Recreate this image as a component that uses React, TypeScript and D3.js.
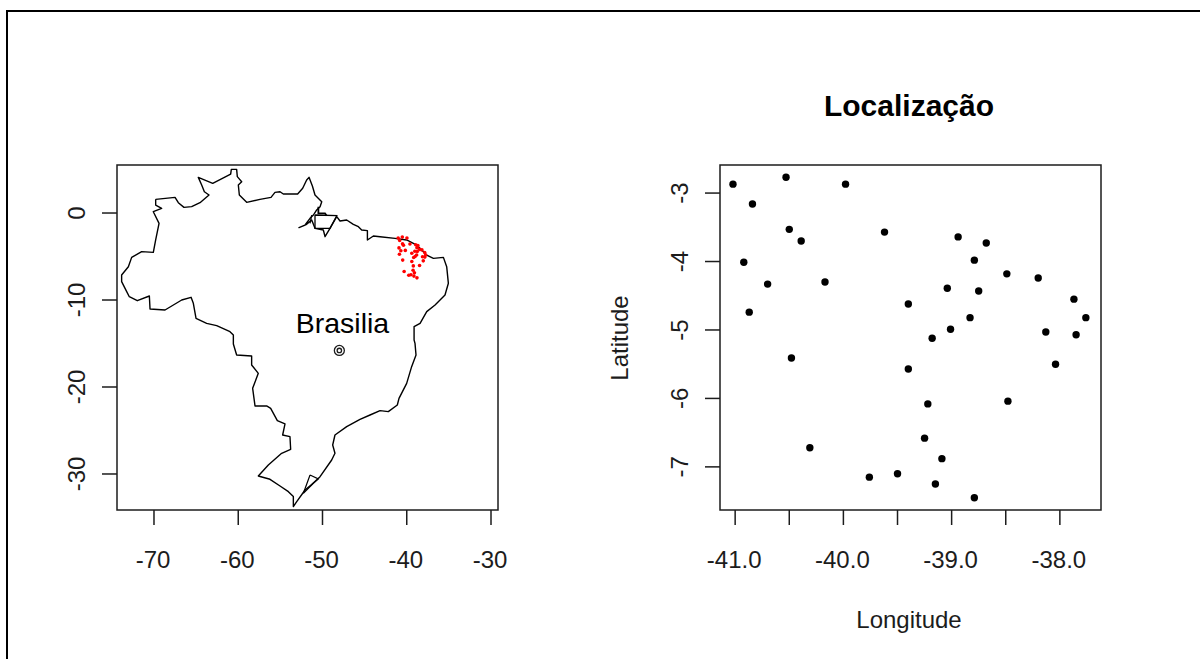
import React from 'react';
import * as d3 from 'd3';

// station coordinates
const stationLon = [-41.02, -40.84, -40.53, -39.98, -40.50, -40.39, -39.62, -38.94, -38.68, -40.92, -40.70, -40.17, -38.79, -38.49, -38.20, -38.75, -39.04, -39.40, -40.87, -37.87, -37.76, -38.13, -37.85, -38.83, -39.01, -39.18, -40.48, -39.40, -38.04, -38.48, -39.22, -39.25, -40.31, -39.09, -39.76, -39.50, -39.15, -38.79];
const stationLat = [-2.87, -3.16, -2.77, -2.87, -3.53, -3.70, -3.57, -3.64, -3.73, -4.01, -4.33, -4.30, -3.98, -4.18, -4.24, -4.43, -4.39, -4.62, -4.74, -4.55, -4.82, -5.03, -5.07, -4.82, -4.99, -5.12, -5.41, -5.57, -5.50, -6.04, -6.08, -6.58, -6.72, -6.88, -7.15, -7.10, -7.25, -7.45];

// Brazil border, traced by hand [lon, lat]
const brazilOutline: [number, number][] = [
  [-69.80, 1.57], [-67.50, 1.80], [-67.11, 1.19], [-66.44, 0.65], [-65.53, 0.73], [-64.54, 1.19], [-63.47, 2.07], [-64.02, 2.45],
  [-64.34, 3.22], [-64.74, 4.10], [-63.03, 3.41], [-60.90, 4.48], [-60.82, 5.02], [-60.19, 5.02], [-60.11, 4.18], [-59.59, 3.60],
  [-59.99, 3.22], [-59.87, 2.07], [-59.00, 1.23], [-57.42, 1.57], [-56.11, 1.80], [-55.64, 2.37], [-55.04, 2.45], [-54.65, 2.18],
  [-52.95, 2.18], [-52.35, 2.84], [-51.88, 3.79], [-51.60, 4.10], [-51.20, 3.10], [-50.89, 2.07], [-50.09, 1.30], [-50.29, 0.73],
  [-50.69, 0.35], [-51.08, -0.23], [-51.48, -0.61], [-52.07, -1.38], [-52.79, -1.68], [-51.88, -1.30], [-51.28, -0.80], [-50.89, -1.76],
  [-49.90, -1.95], [-49.70, -2.72], [-49.11, -1.76], [-48.31, -0.42], [-47.92, -0.92], [-47.13, -0.80], [-46.34, -1.30], [-45.74, -1.57],
  [-45.35, -1.95], [-44.67, -2.03], [-44.67, -3.10], [-43.96, -2.64], [-43.17, -2.72], [-41.39, -2.91], [-40.01, -3.10], [-38.82, -3.68],
  [-37.63, -4.83], [-36.84, -5.21], [-35.65, -5.10], [-35.26, -6.17], [-35.06, -8.08], [-35.46, -9.43], [-36.64, -10.57], [-37.63, -11.34],
  [-38.42, -12.68], [-39.13, -13.07], [-39.13, -14.60], [-39.02, -14.98], [-38.90, -16.32], [-39.42, -17.66], [-40.01, -19.58], [-40.92, -21.30],
  [-41.12, -22.07], [-42.19, -22.83], [-43.17, -22.72], [-44.36, -23.22], [-45.55, -23.72], [-47.13, -24.56], [-48.52, -25.52], [-48.79, -26.67],
  [-48.52, -27.62], [-48.91, -28.39], [-50.29, -30.31], [-51.29, -31.20], [-52.07, -31.84], [-53.06, -33.18], [-53.46, -33.75], [-53.46, -32.60],
  [-54.05, -32.03], [-55.04, -31.38], [-56.23, -30.61], [-57.62, -30.23], [-56.43, -28.96], [-54.85, -27.62], [-53.78, -27.16], [-53.86, -25.71],
  [-54.73, -25.52], [-54.45, -24.25], [-55.36, -23.87], [-56.15, -22.45], [-56.63, -22.18], [-58.01, -22.18], [-58.29, -20.15], [-57.62, -18.43],
  [-58.41, -17.47], [-58.41, -16.44], [-60.19, -16.32], [-60.58, -15.06], [-60.58, -14.02], [-60.98, -13.64], [-62.56, -12.95], [-63.75, -12.68],
  [-65.01, -12.11], [-65.33, -10.38], [-65.60, -9.69], [-66.71, -10.00], [-68.69, -11.15], [-70.47, -11.03], [-70.55, -9.54], [-71.98, -10.08],
  [-72.93, -9.62], [-73.24, -9.04], [-73.84, -7.89], [-73.84, -7.13], [-73.04, -6.17], [-72.65, -5.10], [-71.46, -4.44], [-70.08, -4.52],
  [-69.80, -3.10], [-69.40, -1.19], [-70.08, 0.15], [-69.09, 0.54], [-69.80, 0.92], [-69.80, 1.57],
];
const marajoIsland: [number, number][] = [[-50.89, -0.23], [-48.31, -0.31], [-49.11, -1.76], [-50.89, -1.76], [-50.89, -0.23]];
const amazonChannel: [number, number][] = [[-50.49, 0.73], [-50.49, -0.04], [-49.70, -0.04], [-49.50, -0.31]];
const amazonChannel2: [number, number][] = [[-51.28, -0.23], [-51.48, -1.19]];
const patosLagoon: [number, number][] = [[-51.48, -30.11], [-50.49, -30.57], [-51.08, -31.07], [-52.27, -32.22], [-51.48, -30.11]];

const brasiliaLon = -48;
const brasiliaLat = -15.8;

const mapLonTicks = [-70, -60, -50, -40, -30];
const mapLatTicks = [0, -10, -20, -30];
const zoomLonTicks = [-41, -40.5, -40, -39.5, -39, -38.5, -38];
const zoomLonLabels = [-41, -40, -39, -38];
const zoomLatTicks = [-3, -4, -5, -6, -7];

const W = 1200;
const H = 659;
const top = 165;
const bottom = 510;
const ink = '#1c1c1c';
const font = '"Liberation Sans", Arial, sans-serif';

const mapX = d3.scaleLinear().domain([-74.39, -29.17]).range([117, 498]);
const mapY = d3.scaleLinear().domain([5.52, -34.14]).range([top, bottom]);
const zoomX = d3.scaleLinear().domain([-41.14, -37.62]).range([720, 1101]);
const zoomY = d3.scaleLinear().domain([-2.59, -7.63]).range([top, bottom]);

const mapLine = d3.line<[number, number]>().x((d) => mapX(d[0])).y((d) => mapY(d[1]));

function Frame({ x }: { x: d3.ScaleLinear<number, number> }) {
  const [x0, x1] = x.range();
  return <rect x={x0} y={top} width={x1 - x0} height={bottom - top} fill="none" stroke={ink} strokeWidth={1.5} />;
}

function XTicks({ scale, ticks, labels, fmt }: { scale: d3.ScaleLinear<number, number>; ticks: number[]; labels: number[]; fmt: (v: number) => string }) {
  return (
    <g>
      {ticks.map((t) => (
        <line key={t} x1={scale(t)} x2={scale(t)} y1={bottom} y2={bottom + 15} stroke={ink} strokeWidth={1.5} />
      ))}
      {labels.map((t) => (
        <text key={t} x={scale(t) - 1} y={568} textAnchor="middle" fontSize={24} fill={ink}>{fmt(t)}</text>
      ))}
    </g>
  );
}

function YTicks({ scale, ticks, x0 }: { scale: d3.ScaleLinear<number, number>; ticks: number[]; x0: number }) {
  return (
    <g>
      {ticks.map((t) => (
        <g key={t}>
          <line x1={x0 - 15} x2={x0} y1={scale(t)} y2={scale(t)} stroke={ink} strokeWidth={1.5} />
          <text transform={`translate(${x0 - 32},${scale(t)}) rotate(-90)`} textAnchor="middle" fontSize={24} fill={ink}>{t}</text>
        </g>
      ))}
    </g>
  );
}

export default function App() {
  return (
    <svg width={W} height={H} viewBox={`0 0 ${W} ${H}`} fontFamily={font} style={{ position: 'absolute', left: 0, top: 0, background: '#fff' }}>
      {/* outer border, only top and left are visible in the screenshot */}
      <path d={`M7,${H} V11 H${W}`} fill="none" stroke="#000" strokeWidth={2} />

      {/* left panel: map */}
      <path d={mapLine(brazilOutline) ?? ''} fill="none" stroke="#000" strokeWidth={1.4} strokeLinejoin="round" />
      <path d={mapLine(marajoIsland) ?? ''} fill="none" stroke="#000" strokeWidth={1.3} />
      <path d={mapLine(amazonChannel) ?? ''} fill="none" stroke="#000" strokeWidth={1.8} />
      <path d={mapLine(amazonChannel2) ?? ''} fill="none" stroke="#000" strokeWidth={1.2} />
      <path d={mapLine(patosLagoon) ?? ''} fill="none" stroke="#000" strokeWidth={1.2} />
      {stationLon.map((lon, i) => (
        <circle key={i} cx={mapX(lon)} cy={mapY(stationLat[i])} r={1.8} fill="#f00" />
      ))}
      <circle cx={mapX(brasiliaLon)} cy={mapY(brasiliaLat)} r={5} fill="none" stroke={ink} strokeWidth={1.3} />
      <circle cx={mapX(brasiliaLon)} cy={mapY(brasiliaLat)} r={2.2} fill="none" stroke={ink} strokeWidth={1.3} />
      <text x={342.5} y={333} textAnchor="middle" fontSize={28.5} fill="#000">Brasilia</text>
      <Frame x={mapX} />
      <XTicks scale={mapX} ticks={mapLonTicks} labels={mapLonTicks} fmt={String} />
      <YTicks scale={mapY} ticks={mapLatTicks} x0={117} />

      {/* right panel: stations */}
      <text x={909} y={116} textAnchor="middle" fontSize={30} fontWeight="bold" fill="#000">Localização</text>
      {stationLon.map((lon, i) => (
        <circle key={i} cx={zoomX(lon)} cy={zoomY(stationLat[i])} r={3.7} fill="#000" />
      ))}
      <Frame x={zoomX} />
      <XTicks scale={zoomX} ticks={zoomLonTicks} labels={zoomLonLabels} fmt={(v) => v.toFixed(1)} />
      <YTicks scale={zoomY} ticks={zoomLatTicks} x0={720} />
      <text x={909} y={628} textAnchor="middle" fontSize={24} fill={ink}>Longitude</text>
      <text transform="translate(628,338) rotate(-90)" textAnchor="middle" fontSize={24} fill={ink}>Latitude</text>
    </svg>
  );
}
